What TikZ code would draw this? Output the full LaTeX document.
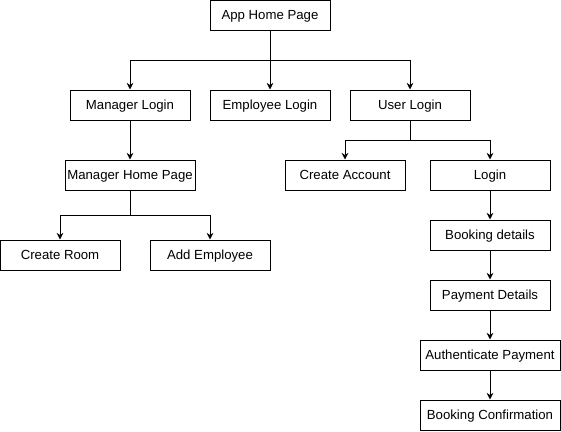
\documentclass[tikz,border=0pt]{standalone}
\usepackage{fontspec}
\setmainfont{Liberation Sans}
\usetikzlibrary{arrows.meta}
\begin{document}
\begin{tikzpicture}[x=0.75pt, y=-0.75pt, line width=0.75pt,
  >={Stealth[length=5pt,width=5pt]},
  page/.style={draw, fill=white, minimum width=90pt, minimum height=22.5pt,
    inner sep=0pt, text height=7pt, text depth=0.4pt,
    font=\fontsize{9.9}{11}\selectfont},
  widepage/.style={page, minimum width=97.5pt},
  widestpage/.style={page, minimum width=105pt}]
\useasboundingbox (0,0) rectangle (561,432);
% top level
\node[page] (app) at (270,15) {App Home Page};
\node[page] (mgr) at (130,105) {Manager Login};
\node[page] (emp) at (270,105) {Employee Login};
\node[page] (usr) at (410,105) {User Login};
% manager side
\node[widepage] (mhome) at (130,175) {Manager Home Page};
\node[page] (room) at (60,255) {Create Room};
\node[page] (addemp) at (210,255) {Add Employee};
% user side
\node[page] (acct) at (345,175) {Create Account};
\node[page] (login) at (490,175) {Login};
\node[page] (book) at (490,235) {Booking details};
\node[page] (pay) at (490,295) {Payment Details};
\node[widestpage] (auth) at (490,355) {Authenticate Payment};
\node[widestpage] (conf) at (490,415) {Booking Confirmation};
% connectors
\draw[->] (app.south) -- +(0,30) -| (mgr.north);
\draw[->] (app.south) -- (emp.north);
\draw[->] (app.south) -- +(0,30) -| (usr.north);
\draw[->] (mgr) -- (mhome);
\draw[->] (mhome.south) -- +(0,25) -| (room.north);
\draw[->] (mhome.south) -- +(0,25) -| (addemp.north);
\draw[->] (usr.south) -- +(0,20) -| (acct.north);
\draw[->] (usr.south) -- +(0,20) -| (login.north);
\draw[->] (login) -- (book);
\draw[->] (book) -- (pay);
\draw[->] (pay) -- (auth);
\draw[->] (auth) -- (conf);
\end{tikzpicture}
\end{document}
